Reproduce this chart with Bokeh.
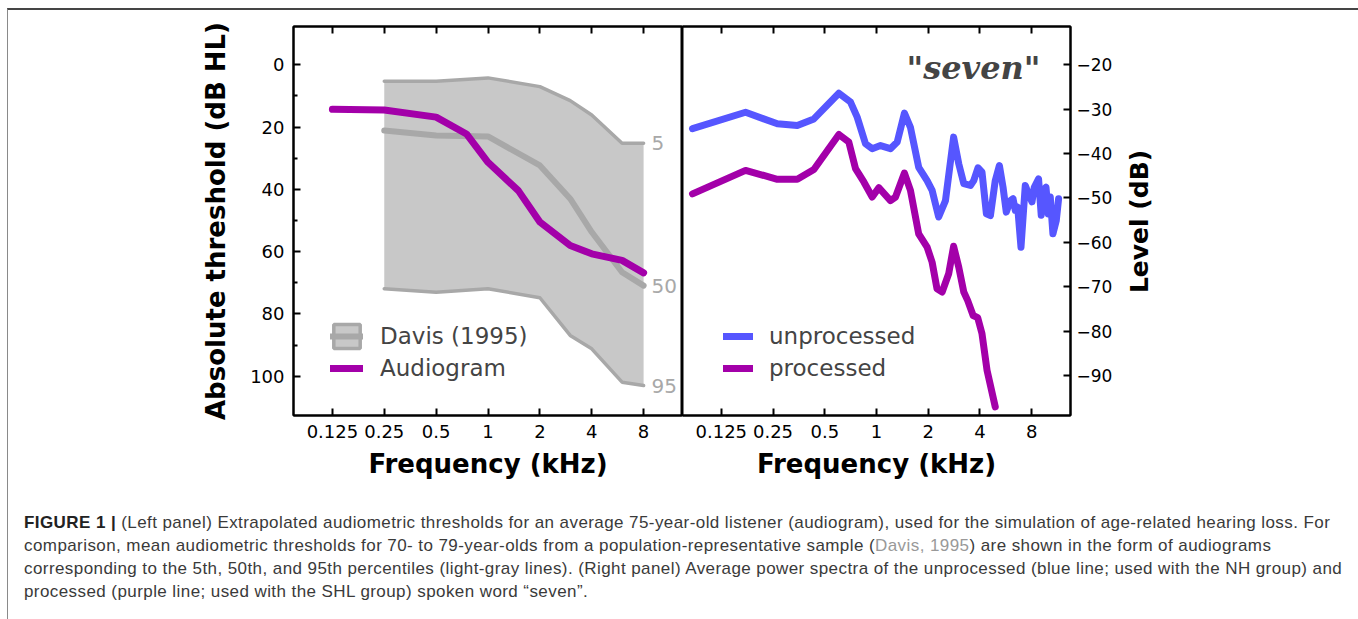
import math
from bokeh.plotting import figure
from bokeh.models import (Range1d, FixedTicker, LogAxis, CustomJSTickFormatter, Legend,
                          LegendItem, Label, Div, ColumnDataSource)
from bokeh.layouts import row, column
from bokeh.embed import file_html
from bokeh.resources import INLINE
from bokeh.core.properties import value

# ---------------- data ----------------
freq_ticks = [0.125, 0.25, 0.5, 1, 2, 4, 8]
db_hl_ticks = [0, 20, 40, 60, 80, 100]
db_hl_minor = [10, 30, 50, 70, 90]
level_ticks = [-20, -30, -40, -50, -60, -70, -80, -90]

aud_freq = [0.125, 0.25, 0.5, 0.75, 1, 1.5, 2, 3, 4, 6, 8]
aud_db = [14.3, 14.5, 16.8, 22.2, 31.3, 40.4, 50.5, 58.0, 60.7, 62.8, 66.8]

davis_freq = [0.25, 0.5, 1, 2, 3, 4, 6, 8]
davis_p5 = [5.3, 5.3, 4.2, 7.0, 11.5, 16.1, 25.2, 25.2]
davis_p50 = [21.1, 22.7, 23.0, 32.3, 43.0, 53.7, 66.6, 70.9]
davis_p95 = [71.9, 73.0, 71.9, 74.8, 86.9, 91.2, 101.9, 103.0]
pct_labels = ["5", "50", "95"]

unproc_freq = [0.085, 0.173, 0.265, 0.346, 0.432, 0.604, 0.706, 0.772, 0.863, 0.944,
               1.055, 1.206, 1.32, 1.454, 1.576, 1.76, 1.97, 2.107, 2.30, 2.52,
               2.81, 3.01, 3.22, 3.52, 3.68, 3.9, 4.11, 4.36, 4.6, 4.91,
               5.19, 5.45, 5.69, 6.01, 6.23, 6.42, 6.63, 6.93, 7.34, 7.67,
               8.03, 8.28, 8.77, 9.09, 9.38, 9.69, 9.99, 10.26, 10.63, 11.12, 11.47]
unproc_db = [-34.4, -30.7, -33.3, -33.7, -32.2, -26.4, -28.4, -31.8, -37.8, -38.9,
             -38.2, -38.9, -37.4, -30.9, -34.1, -43.1, -46.1, -48.3, -54.3, -50.6,
             -36.3, -42.3, -46.8, -47.2, -46.1, -43.2, -44.2, -53.6, -54.0, -46.1,
             -42.7, -47.6, -53.2, -50.6, -50.2, -52.8, -52.1, -61.1, -47.2, -49.1,
             -50.9, -47.6, -45.7, -53.9, -48.3, -47.6, -53.6, -49.8, -58.1, -55.1, -50.2]

proc_freq = [0.085, 0.173, 0.265, 0.346, 0.432, 0.604, 0.69, 0.755, 0.844, 0.944,
             1.031, 1.206, 1.29, 1.454, 1.576, 1.76, 1.97, 2.107, 2.25, 2.41,
             2.63, 2.81, 3.01, 3.22, 3.39, 3.65, 3.88, 4.11, 4.4, 4.91]
proc_db = [-49.1, -43.8, -45.8, -45.8, -43.6, -35.7, -37.4, -43.4, -46.4, -49.8,
           -47.7, -50.6, -49.8, -44.4, -48.3, -58.1, -61.1, -64.5, -70.5, -71.2,
           -67.1, -60.9, -65.6, -71.2, -73.1, -76.5, -77.0, -80.6, -88.9, -97.1]

x_label = "Frequency (kHz)"
left_y_label = "Absolute threshold (dB HL)"
right_y_label = "Level (dB)"
word_label = '"seven"'
legend_left = ["Davis (1995)", "Audiogram"]
legend_right = ["unprocessed", "processed"]

caption_head = "FIGURE 1 |"
caption_lines = [
    "(Left panel) Extrapolated audiometric thresholds for an average 75-year-old listener (audiogram), used for the simulation of age-related hearing loss. For",
    "comparison, mean audiometric thresholds for 70- to 79-year-olds from a population-representative sample (",
    "Davis, 1995",
    ") are shown in the form of audiograms",
    "corresponding to the 5th, 50th, and 95th percentiles (light-gray lines). (Right panel) Average power spectra of the unprocessed (blue line; used with the NH group) and",
    "processed (purple line; used with the SHL group) spoken word \u201cseven\u201d.",
]

# ---------------- styles ----------------
PURPLE = "#a300a9"
BLUE = "#5656ff"
GRAY_FILL = "#c8c8c8"
GRAY_LINE = "#a8a8a8"
FONT = "DejaVu Sans"

X_LO, X_HI = 2 ** -3.75, 2 ** 3.75
FRAME_H = 389
FIG_H = 16 + FRAME_H + 75

tick_fmt = CustomJSTickFormatter(code="return tick.toString();")
minus_fmt = CustomJSTickFormatter(code="return tick < 0 ? '\\u2212' + Math.abs(tick) : tick.toString();")


def style_axis(ax, size="18px"):
    ax.major_tick_in = 7
    ax.major_tick_out = 0
    ax.minor_tick_in = 4
    ax.minor_tick_out = 0
    ax.major_tick_line_width = 2
    ax.minor_tick_line_width = 2
    ax.major_tick_line_color = "black"
    ax.minor_tick_line_color = "black"
    ax.axis_line_width = 2
    ax.axis_line_color = "black"
    ax.major_label_text_font = FONT
    ax.major_label_text_font_size = size
    ax.major_label_text_color = "black"
    ax.axis_label_text_font = FONT
    ax.axis_label_text_font_size = "26px"
    ax.axis_label_text_font_style = "bold"
    ax.axis_label_text_color = "black"


def add_top_axis(p):
    top = LogAxis(ticker=FixedTicker(ticks=freq_ticks, minor_ticks=[]))
    style_axis(top)
    top.major_label_text_font_size = "0px"
    top.major_label_text_alpha = 0
    top.major_label_standoff = 0
    p.add_layout(top, "above")


# ---------------- left panel ----------------
pl = figure(x_axis_type="log", x_range=Range1d(X_LO, X_HI), y_range=Range1d(112.6, -12.3),
            frame_width=389, frame_height=FRAME_H,
            min_border_left=285, min_border_right=0, min_border_top=16, min_border_bottom=75,
            output_backend="svg", toolbar_location=None)
pl.xgrid.visible = False
pl.ygrid.visible = False
pl.outline_line_color = "black"
pl.outline_line_width = 2
pl.background_fill_color = "white"
pl.border_fill_color = "white"

xa = pl.xaxis[0]
xa.ticker = FixedTicker(ticks=freq_ticks, minor_ticks=[])
xa.formatter = tick_fmt
style_axis(xa)
xa.axis_label = x_label
xa.major_label_standoff = 9
xa.axis_label_standoff = 8

ya = pl.yaxis[0]
ya.ticker = FixedTicker(ticks=db_hl_ticks, minor_ticks=db_hl_minor)
style_axis(ya)
ya.axis_label = left_y_label
ya.major_label_standoff = 9
ya.axis_label_standoff = 16
add_top_axis(pl)

band = pl.varea(x=davis_freq, y1=davis_p5, y2=davis_p95, fill_color=GRAY_FILL)
band_key = pl.patch(x=davis_freq + davis_freq[::-1], y=davis_p5 + davis_p95[::-1],
                    fill_color=GRAY_FILL, line_color=GRAY_LINE, line_width=3.5)
band_key.visible = False
pl.line(davis_freq, davis_p5, line_color=GRAY_LINE, line_width=3.5, line_cap="round", line_join="round")
pl.line(davis_freq, davis_p95, line_color=GRAY_LINE, line_width=3.5, line_cap="round", line_join="round")
r50 = pl.line(davis_freq, davis_p50, line_color=GRAY_LINE, line_width=6, line_cap="round", line_join="round")
raud = pl.line(aud_freq, aud_db, line_color=PURPLE, line_width=7, line_cap="round", line_join="round")

pct_src = ColumnDataSource(dict(x=[davis_freq[-1]] * 3,
                                y=[davis_p5[-1], davis_p50[-1], davis_p95[-1]],
                                t=pct_labels))
pl.text(x="x", y="y", text="t", source=pct_src, x_offset=8, text_baseline="middle",
        text_align="left", text_color=GRAY_LINE, text_font=value(FONT), text_font_size="20px")

leg_l = Legend(items=[LegendItem(label=legend_left[0], renderers=[band_key, r50]),
                      LegendItem(label=legend_left[1], renderers=[raud])],
               location=(37, 32), padding=0, margin=0, spacing=2,
               glyph_width=33, glyph_height=30, label_height=30, label_standoff=17,
               label_text_font=FONT, label_text_font_size="23px",
               border_line_alpha=0, background_fill_alpha=0)
pl.add_layout(leg_l)

# ---------------- right panel ----------------
pr = figure(x_axis_type="log", x_range=Range1d(X_LO, X_HI), y_range=Range1d(-99.04, -11.37),
            y_axis_location="right",
            frame_width=388, frame_height=FRAME_H,
            min_border_left=0, min_border_right=50, min_border_top=16, min_border_bottom=75,
            output_backend="svg", toolbar_location=None)
pr.xgrid.visible = False
pr.ygrid.visible = False
pr.outline_line_color = "black"
pr.outline_line_width = 2
pr.border_fill_color = "white"

xb = pr.xaxis[0]
xb.ticker = FixedTicker(ticks=freq_ticks, minor_ticks=[])
xb.formatter = tick_fmt
style_axis(xb)
xb.axis_label = x_label
xb.major_label_standoff = 9
xb.axis_label_standoff = 8

yb = pr.yaxis[0]
yb.ticker = FixedTicker(ticks=level_ticks, minor_ticks=[])
yb.formatter = minus_fmt
style_axis(yb, size="17px")
yb.major_label_standoff = 6
add_top_axis(pr)

ru = pr.line(unproc_freq, unproc_db, line_color=BLUE, line_width=7, line_cap="round", line_join="round")
rp = pr.line(proc_freq, proc_db, line_color=PURPLE, line_width=7, line_cap="round", line_join="round")

leg_r = Legend(items=[LegendItem(label=legend_right[0], renderers=[ru]),
                      LegendItem(label=legend_right[1], renderers=[rp])],
               location=(41, 32), padding=0, margin=0, spacing=2,
               glyph_width=30, glyph_height=30, label_height=30, label_standoff=16,
               label_text_font=FONT, label_text_font_size="23px",
               border_line_alpha=0, background_fill_alpha=0)
pr.add_layout(leg_r)

pr.add_layout(Label(x=358, y=348, x_units="screen", y_units="screen", text=word_label,
                    text_font="DejaVu Serif", text_font_style="bold italic",
                    text_font_size="32px", text_align="right", text_baseline="middle"))

# ---------------- right-side axis title strip ----------------
pt = figure(width=234, height=FIG_H, min_border=0, x_axis_location=None, y_axis_location=None,
            output_backend="svg", toolbar_location=None)
pt.xgrid.visible = False
pt.ygrid.visible = False
pt.outline_line_color = None
pt.border_fill_color = "white"
pt.background_fill_color = "white"
pt.add_layout(Label(x=19, y=194, x_units="screen", y_units="screen",
                    text=right_y_label, angle=math.pi / 2,
                    text_font=FONT, text_font_style="bold", text_font_size="25px",
                    text_align="center", text_baseline="middle", text_color="black"))

# ---------------- caption ----------------
cap_html = (
    '<div style="font-family:\'Liberation Sans\',Arial,sans-serif;font-size:17px;line-height:23px;'
    'letter-spacing:0.42px;color:#3a3a3a;white-space:nowrap;">'
    f'<b style="color:#222">{caption_head}</b> {caption_lines[0]}<br>'
    f'{caption_lines[1]}<span style="color:#999">{caption_lines[2]}</span>{caption_lines[3]}<br>'
    f'{caption_lines[4]}<br>'
    f'{caption_lines[5]}'
    '</div>'
)
cap = Div(text=cap_html, width=1345, height=121,
          styles={"padding-left": "11px", "padding-top": "16px", "box-sizing": "border-box"})

layout = column(row(pl, pr, pt), cap, margin=(8, 0, 0, 7),
                styles={"border-top": "2px solid #454545", "border-left": "1px solid #8a8a8a",
                        "border-right": "1px solid #8a8a8a"})

open("out.html", "w").write(file_html(layout, INLINE))
